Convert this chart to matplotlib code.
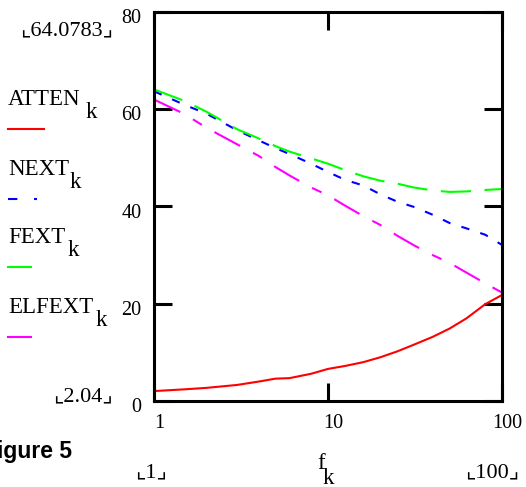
"""Mathcad-style cable loss plot: ATTEN, NEXT, FEXT and ELFEXT versus frequency."""

import matplotlib

matplotlib.use("Agg")
import matplotlib.pyplot as plt
from matplotlib.lines import Line2D
from matplotlib.ticker import FixedLocator, NullLocator, FixedFormatter
from matplotlib.transforms import ScaledTranslation

# frequency points (MHz)
freq = [1, 1.5, 2, 3, 4, 5, 6, 8, 10, 12.5, 16, 20, 25, 31.25, 40, 50, 62.5, 80, 100]

atten = [2.04, 2.4, 2.7, 3.3, 4.0, 4.6, 4.7, 5.6, 6.6, 7.2, 8.0, 9.0, 10.2, 11.6,
         13.2, 14.9, 17.0, 19.9, 21.8]
next_loss = [63.7, 60.9, 59.1, 55.7, 53.6, 52.0, 50.8, 48.8, 47.1, 45.5, 44.3, 42.5,
             41.0, 39.9, 38.3, 36.6, 35.5, 34.2, 32.1]
fext = [64.0783, 61.7, 59.5, 55.9, 54.0, 52.4, 51.3, 49.9, 48.8, 47.5, 46.2, 45.3,
        44.7, 43.9, 43.3, 43.0, 43.1, 43.4, 43.6]
elfext = [62.0, 59.0, 56.2, 52.8, 50.4, 48.1, 46.4, 43.9, 42.3, 40.2, 38.0, 36.2,
          34.0, 32.0, 30.0, 28.4, 26.4, 24.2, 22.3]

x_ticks = [1, 10, 100]
y_ticks = [0, 20, 40, 60, 80]

SERIF = ["Liberation Serif", "DejaVu Serif"]
W, H = 526, 487


def fx(px):
    return px / W


def fy(py):
    return 1 - py / H


fig = plt.figure(figsize=(W / 100, H / 100), dpi=100)
ax = fig.add_axes([fx(154), fy(401), fx(502) - fx(154), fy(12) - fy(401)])

lw = 1.5
ax.plot(freq, atten, color="#ff0000", lw=lw, solid_capstyle="butt")
ax.plot(freq, next_loss, color="#0000ff", lw=lw, linestyle=(0, (4, 5.5)))
ax.plot(freq, fext, color="#00ff00", lw=lw, linestyle=(0, (14.5, 6.5)))
ax.plot(freq, elfext, color="#ff00ff", lw=lw, linestyle=(0, (14, 7, 5, 7)))

ax.set_xscale("log")
ax.set_xlim(1, 100)
ax.set_ylim(0, 80)
ax.xaxis.set_major_locator(FixedLocator(x_ticks))
ax.xaxis.set_major_formatter(FixedFormatter([str(v) for v in x_ticks]))
ax.xaxis.set_minor_locator(NullLocator())
ax.yaxis.set_major_locator(FixedLocator(y_ticks))

for spine in ax.spines.values():
    spine.set_linewidth(2.2)
ax.tick_params(direction="in", length=13, width=2.2, top=True, right=True,
               labelsize=14.5, pad=9)
for label in ax.get_xticklabels() + ax.get_yticklabels():
    label.set_family(SERIF)
for label in ax.get_xticklabels():
    label.set_transform(label.get_transform()
                        + ScaledTranslation(0.05, 0, fig.dpi_scale_trans))
for label in ax.get_yticklabels():
    label.set_transform(label.get_transform()
                        + ScaledTranslation(0, -0.04, fig.dpi_scale_trans))

# left-hand legend in Mathcad style
font = dict(family=SERIF, fontsize=16.5, color="black")
legend_items = [
    ("ATTEN", 105, 86, "#ff0000", "-", 44),
    ("NEXT", 175, 70, "#0000ff", (0, (4.5, 8)), 37),
    ("FEXT", 243, 68, "#00ff00", "-", 31),
    ("ELFEXT", 313, 96, "#ff00ff", "-", 31),
]
for name, base, k_x, color, style, end_x in legend_items:
    fig.text(fx(8), fy(base), name, va="baseline", **font)
    fig.text(fx(k_x), fy(base + 13), "k", va="baseline", **font)
    fig.add_artist(Line2D([fx(8), fx(end_x)], [fy(base + 24)] * 2, color=color,
                          lw=lw, linestyle=style, transform=fig.transFigure))

corner = dict(family=SERIF + ["DejaVu Sans"], fontsize=16, color="black")
fig.text(fx(113), fy(35), "\u231e64.0783\u231f", ha="right", va="baseline", **corner)
fig.text(fx(113), fy(401), "\u231e2.04\u231f", ha="right", va="baseline", **corner)
fig.text(fx(151), fy(477), "\u231e1\u231f", ha="center", va="baseline", **corner)
fig.text(fx(492), fy(477), "\u231e100\u231f", ha="center", va="baseline", **corner)
fig.text(fx(317), fy(469), "f", va="baseline", **font)
fig.text(fx(323), fy(484), "k", va="baseline", **font)

fig.text(fx(72), fy(458), "Figure 5", ha="right", va="baseline",
         family="Liberation Sans", fontsize=16.5, fontweight="bold")

fig.savefig("out.png", dpi=100)
